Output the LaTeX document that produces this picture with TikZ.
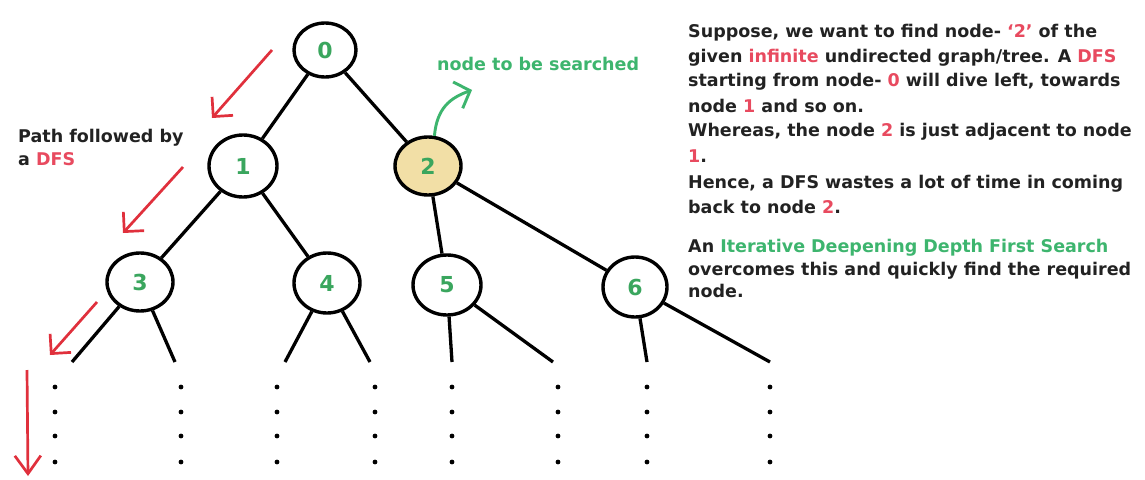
\documentclass[tikz,border=0pt]{standalone}
\usepackage{fontspec}
\setmainfont{DejaVu Sans}
\usetikzlibrary{shapes.geometric,arrows.meta}
\definecolor{txt}{HTML}{222222}
\definecolor{redA}{HTML}{E0303C}
\definecolor{redT}{HTML}{E84A5F}
\definecolor{greenT}{HTML}{3DB56E}
\definecolor{greenN}{HTML}{3AA65E}
\definecolor{tanfill}{HTML}{F2DFA6}
\newcommand{\rd}[1]{\textcolor{redT}{#1}}
\newcommand{\gr}[1]{\textcolor{greenT}{#1}}
\tikzset{
  treenode/.style={ellipse, draw=black, line width=3.4pt, minimum width=66pt, minimum height=58pt, inner sep=0pt, font=\fontsize{22}{24}\selectfont\bfseries, text=greenN},
  edge/.style={line width=3.3pt, draw=black},
  redarrow/.style={line width=2.7pt, draw=redA, -{Straight Barb[length=14pt,width=28pt,line width=2.7pt]}},
  greenarrow/.style={line width=2.9pt, draw=greenT, -{Straight Barb[length=13pt,width=28pt,line width=2.9pt]}},
  para/.style={anchor=base west, inner sep=0pt, text=txt, font=\fontsize{17.5}{20}\selectfont\bfseries},
  dotmark/.style={fill=black}
}
\begin{document}
\begin{tikzpicture}[x=1pt,y=-1pt]
\fill[white] (0,0) rectangle (1145,479);
\useasboundingbox (0,0) rectangle (1145,479);

% tree nodes
\node[treenode, minimum width=62pt, minimum height=54pt] (n0) at (325,50) {0};
\node[treenode, minimum width=68pt, minimum height=62pt] (n1) at (243,166) {1};
\node[treenode, fill=tanfill] (n2) at (428,166) {2};
\node[treenode] (n3) at (140,282) {3};
\node[treenode, minimum height=60pt] (n4) at (327,283) {4};
\node[treenode, minimum width=68pt, minimum height=60pt] (n5) at (447,285) {5};
\node[treenode, minimum width=64pt, minimum height=60pt] (n6) at (635,287) {6};

% leaf ends
\coordinate (l3a) at (72,362);
\coordinate (l3b) at (175,362);
\coordinate (l4a) at (285,362);
\coordinate (l4b) at (370,362);
\coordinate (l5a) at (452,362);
\coordinate (l5b) at (553,362);
\coordinate (l6a) at (647,362);
\coordinate (l6b) at (770,362);

% edges
\draw[edge] (n0) -- (n1);
\draw[edge] (n0) -- (n2);
\draw[edge] (n1) -- (n3);
\draw[edge] (n1) -- (n4);
\draw[edge] (n2) -- (n5);
\draw[edge] (n2) -- (n6);
\draw[edge] (n3) -- (l3a);
\draw[edge] (n3) -- (l3b);
\draw[edge] (n4) -- (l4a);
\draw[edge] (n4) -- (l4b);
\draw[edge] (n5) -- (l5a);
\draw[edge] (n5) -- (l5b);
\draw[edge] (n6) -- (l6a);
\draw[edge] (n6) -- (l6b);

% dots
\foreach \x in {55,181,277,375,452,558,647,770}{
  \foreach \y in {387,412,436,462}{
    \fill[dotmark] (\x,\y) circle (2.4pt);
  }
}

% red DFS path arrows
\coordinate (r1s) at (272,50);  \coordinate (r1e) at (212,118);
\coordinate (r2s) at (183,167); \coordinate (r2e) at (123,233);
\coordinate (r3s) at (97,302);  \coordinate (r3e) at (50,355);
\coordinate (r4s) at (27,370);  \coordinate (r4e) at (28,476);
\draw[redarrow] (r1s) -- (r1e);
\draw[redarrow] (r2s) -- (r2e);
\draw[redarrow] (r3s) -- (r3e);
\draw[redarrow, -{Straight Barb[length=18pt,width=26pt,line width=2.7pt]}] (r4s) -- (r4e);

% green arrow
\coordinate (gtip) at (472,90);
\draw[greenarrow] (n2.78) .. controls (437,108) and (450,98) .. (gtip);
\node[para, text=greenT] (searched) at (437,70) {node to be searched};

% left label
\node[para] (pf1) at (18,142) {Path followed by};
\node[para] (pf2) at (18,165) {a \rd{DFS}};

% right text
\node[para] (t1) at (688,37) {Suppose, we want to find node- \rd{`2'} of the};
\node[para] (t2) at (688,62) {given \rd{infinite} undirected graph/tree. A \rd{DFS}};
\node[para] (t3) at (688,86) {starting from node- \rd{0} will dive left, towards};
\node[para] (t4) at (688,112) {node \rd{1} and so on.};
\node[para] (t5) at (688,136) {Whereas, the node \rd{2} is just adjacent to node};
\node[para] (t6) at (688,162) {\rd{1}.};
\node[para] (t7) at (688,188) {Hence, a DFS wastes a lot of time in coming};
\node[para] (t8) at (688,213) {back to node \rd{2}.};
\node[para] (t9) at (688,252) {An \gr{Iterative Deepening Depth First Search}};
\node[para] (t10) at (688,275) {overcomes this and quickly find the required};
\node[para] (t11) at (688,297) {node.};
\end{tikzpicture}
\end{document}
